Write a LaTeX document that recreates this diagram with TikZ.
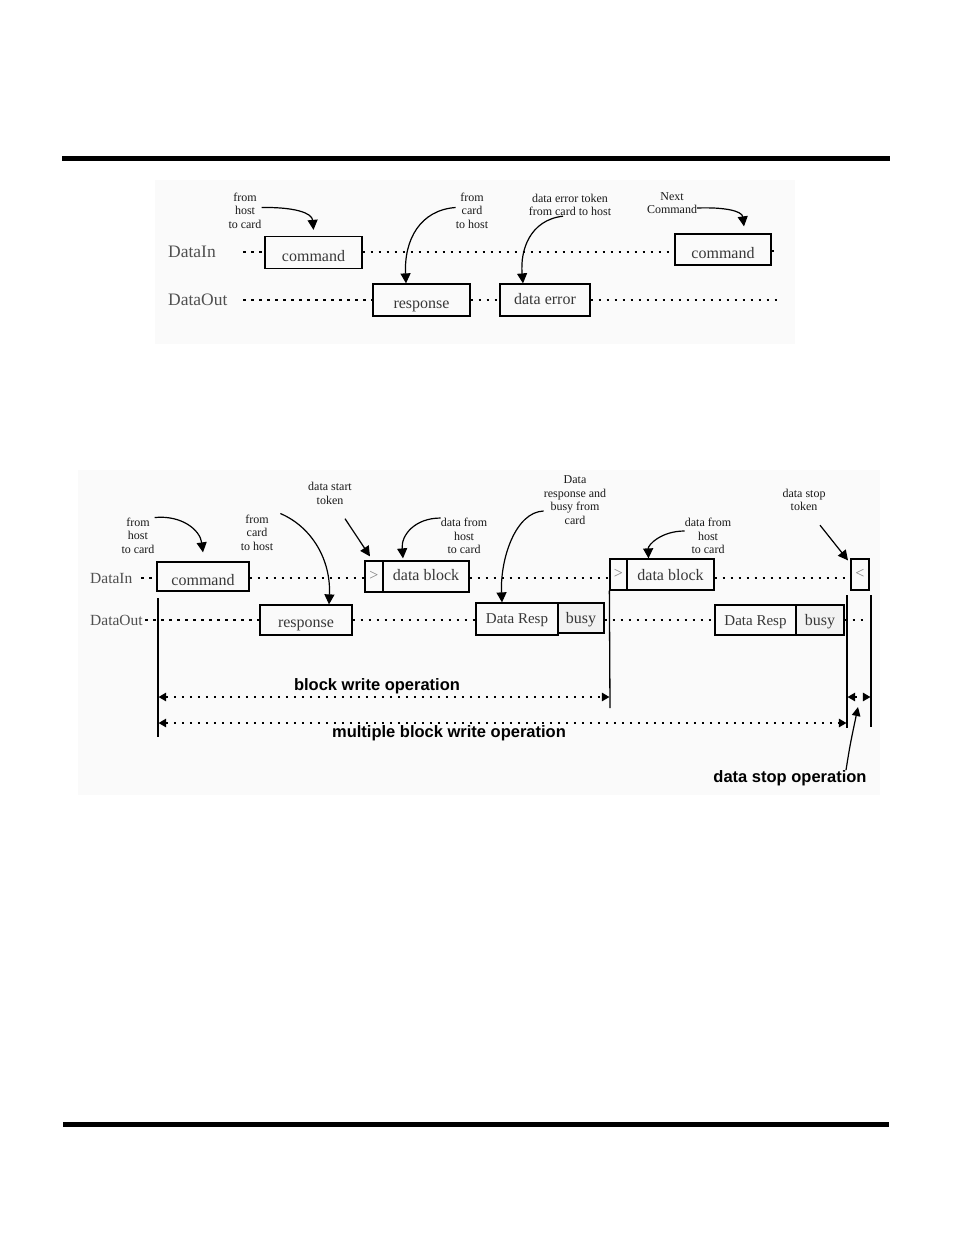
\documentclass[tikz,border=0pt]{standalone}
\usepackage{fontspec}
\setmainfont{Liberation Serif}
\newfontfamily\arialfont{Liberation Sans}
\usetikzlibrary{arrows.meta}
\definecolor{txt}{HTML}{383838}
\definecolor{lab}{HTML}{505050}
\definecolor{panel}{HTML}{FAFAFA}
\definecolor{busyfill}{HTML}{F2F2F2}
\begin{document}
\begin{tikzpicture}[x=1pt,y=-1pt,
  tbox/.style={draw=black, line width=1.25pt, inner sep=0pt, text=txt, text depth=0pt, font=\fontsize{16}{16}\selectfont},
  dotline/.style={line width=1.2pt, dash pattern=on 2.5pt off 5.5pt},
  ann/.style={align=center, text=black!90, font=\fontsize{12}{13.5}\selectfont, inner sep=0pt},
  curv/.style={line width=1.2pt, -{Triangle[length=10pt,width=10pt]}},
  lbl/.style={anchor=west, inner sep=0pt, text=lab, font=\fontsize{17.5}{17.5}\selectfont},
  lblb/.style={anchor=west, inner sep=0pt, text=lab, font=\fontsize{15.5}{15.5}\selectfont},
  boldlbl/.style={font=\arialfont\bfseries\fontsize{16.5}{16.5}\selectfont, inner sep=0pt},
  vline/.style={line width=1.3pt},
  spanarrow/.style={dotline, {Triangle[length=7.5pt,width=8.5pt]}-{Triangle[length=7.5pt,width=8.5pt]}},
]
\useasboundingbox (0,0) rectangle (954,1235);
% page rules
\fill (62,156) rectangle (890,161);
\fill (63,1122) rectangle (889,1127);
% panel backgrounds
\fill[panel] (155,180) rectangle (795,344);
\fill[panel] (78,470) rectangle (880,795);

% ---------- Panel 1 ----------
\node[lbl] (in1) at (168,252) {DataIn};
\node[lbl] (out1) at (168,300) {DataOut};
\node[tbox, minimum width=97, minimum height=32, text height=17pt] (cmd1) at (313.5,252.5) {command};
\node[tbox, minimum width=96, minimum height=31, text height=17pt] (cmd2) at (723,249.5) {command};
\node[tbox, minimum width=97, minimum height=32, text height=16pt] (resp1) at (421.5,300) {response};
\node[tbox, minimum width=90, minimum height=32, text height=8pt] (derr) at (545,300) {data error};
\coordinate (in1s) at (243,252);
\coordinate (in1e) at (779,251);
\coordinate (out1s) at (243,300);
\coordinate (out1e) at (779,300);
\draw[dotline] (in1s) -- (cmd1.west |- in1s);
\draw[dotline] (cmd1.east |- in1s) -- (cmd2.west |- in1s);
\draw[dotline] (cmd2.east |- in1e) -- (in1e);
\draw[dotline] (out1s) -- (resp1.west);
\draw[dotline] (resp1.east) -- (derr.west);
\draw[dotline] (derr.east) -- (out1e);

\node[ann] (a1) at (245,210.5) {from\\host\\to card};
\node[ann] (a2) at (472,210.5) {from\\card\\to host};
\node[ann] (a3) at (570,205) {data error token\\from card to host};
\node[ann] (a4) at (672,203) {Next\\Command};
\draw[curv] ([yshift=3pt]a1.east) .. controls (295,207) and (312,213) .. ([yshift=6pt]cmd1.north);
\draw[curv] ([yshift=3pt]a2.west) .. controls (420,210) and (404,240) .. ([xshift=-15.5pt]resp1.north);
\draw[curv] ([xshift=-7pt]a3.south) .. controls (530,220) and (520,250) .. ([xshift=-22pt]derr.north);
\draw[curv] ([yshift=-5pt]a4.east) .. controls (725,207) and (742,211) .. ([xshift=21pt,yshift=7pt]cmd2.north);

% ---------- Panel 2 ----------
\node[lblb] (in2) at (90,578) {DataIn};
\node[lblb] (out2) at (90,620) {DataOut};
\node[tbox, minimum width=92, minimum height=29, text height=17pt] (cmdB) at (203,576.5) {command};
\node[tbox, minimum width=18, minimum height=31, text=gray, text height=8pt] (stok1) at (374,576.5) {>};
\node[tbox, minimum width=86, minimum height=31, text height=7pt] (dblk1) at (426,576.5) {data block};
\node[tbox, minimum width=17, minimum height=31, text=gray, text height=8pt] (stok2) at (618.5,574.5) {>};
\node[tbox, minimum width=87, minimum height=31, text height=11pt] (dblk2) at (670.5,574.5) {data block};
\node[tbox, minimum width=18, minimum height=31, text=gray, text height=8pt] (etok) at (860,574.5) {<};
\node[tbox, minimum width=92, minimum height=30, text height=14pt] (respB) at (306,620) {response};
\node[tbox, minimum width=82, minimum height=32, text height=8.6pt, font=\fontsize{15}{15}\selectfont] (dr1) at (517,619) {Data Resp};
\node[tbox, fill=busyfill, minimum width=46, minimum height=30, text height=10.6pt] (busy1) at (581,618) {busy};
\node[tbox, minimum width=81, minimum height=30, text height=10pt, font=\fontsize{15}{15}\selectfont] (dr2) at (755.5,620) {Data Resp};
\node[tbox, fill=busyfill, minimum width=48, minimum height=30, text height=10pt] (busy2) at (820,620) {busy};

\coordinate (in2s) at (141,578);
\coordinate (out2s) at (145,620);
\coordinate (out2e) at (866,620);
\draw[dotline] (in2s) -- (cmdB.west |- in2s);
\draw[dotline] (cmdB.east |- in2s) -- (stok1.west |- in2s);
\draw[dotline] (dblk1.east |- in2s) -- (stok2.west |- in2s);
\draw[dotline] (dblk2.east |- in2s) -- (etok.west |- in2s);
\draw[dotline] (out2s) -- (respB.west);
\draw[dotline] (respB.east) -- (dr1.west |- respB.east);
\draw[dotline] (busy1.east |- respB.east) -- (dr2.west);
\draw[dotline] (busy2.east) -- (out2e);

% vertical markers
\coordinate (v1t) at (158,598);  \coordinate (v1b) at (158,737);
\coordinate (v2b) at (610,708);
\coordinate (v3t) at (847,595);  \coordinate (v3b) at (847,728);
\coordinate (v4t) at (871,595);  \coordinate (v4b) at (871,727);
\draw[vline] (v1t) -- (v1b);
\draw[vline] (stok2.south west) -- (v2b);
\draw[vline] (v3t) -- (v3b);
\draw[vline] (v4t) -- (v4b);

% span arrows
\coordinate (bwL) at (158.6,697);  \coordinate (bwR) at (609.4,697);
\coordinate (mwL) at (158.6,723);  \coordinate (mwR) at (846.4,723);
\coordinate (dsL) at (847.6,697);  \coordinate (dsR) at (870.4,697);
\draw[spanarrow] (bwL) -- (bwR);
\draw[spanarrow] (mwL) -- (mwR);
\draw[spanarrow] (dsL) -- (dsR);
\node[boldlbl] (bwo) at (377,686) {block write operation};
\node[boldlbl] (mwo) at (449,733) {multiple block write operation};
\node[boldlbl] (dso) at (790,778) {data stop operation};
\coordinate (dsotip) at (858,707);
\draw[line width=1.2pt, -{Triangle[length=9pt,width=8.5pt]}] ([xshift=56pt]dso.north) .. controls (850,745) .. (dsotip);

% annotations panel 2
\node[ann] (b1) at (138,535.5) {from\\host\\to card};
\node[ann] (b2) at (257,532.5) {from\\card\\to host};
\node[ann] (b3) at (330,493.5) {data start\\token};
\node[ann] (b4) at (464,536) {data from\\host\\to card};
\node[ann] (b5) at (575,500) {Data\\response and\\busy from\\card};
\node[ann] (b6) at (708,536) {data from\\host\\to card};
\node[ann] (b7) at (804,500) {data stop\\token};
\draw[curv] (b1.north east) .. controls (182,515) and (200,530) .. ([yshift=9pt]cmdB.north);
\draw[curv] ([xshift=7pt,yshift=1pt]b2.north east) .. controls (312,527) and (331,560) .. ([xshift=23pt]respB.north);
\draw[curv] ([xshift=15pt,yshift=-14pt]b3.south) -- ([xshift=-4pt,yshift=4pt]stok1.north);
\draw[curv] (b4.north west) .. controls (415,518) and (401,535) .. ([xshift=-23pt,yshift=2pt]dblk1.north);
\draw[curv] ([yshift=-11pt]b5.west) .. controls (515,512) and (500,560) .. ([xshift=-15pt]dr1.north);
\draw[curv] ([yshift=5pt]b6.west) .. controls (661,531) and (648,545) .. ([xshift=-22pt,yshift=0pt]dblk2.north);
\draw[curv] ([xshift=16pt,yshift=-14pt]b7.south) -- ([xshift=-12pt,yshift=-2pt]etok.north);
\end{tikzpicture}
\end{document}
